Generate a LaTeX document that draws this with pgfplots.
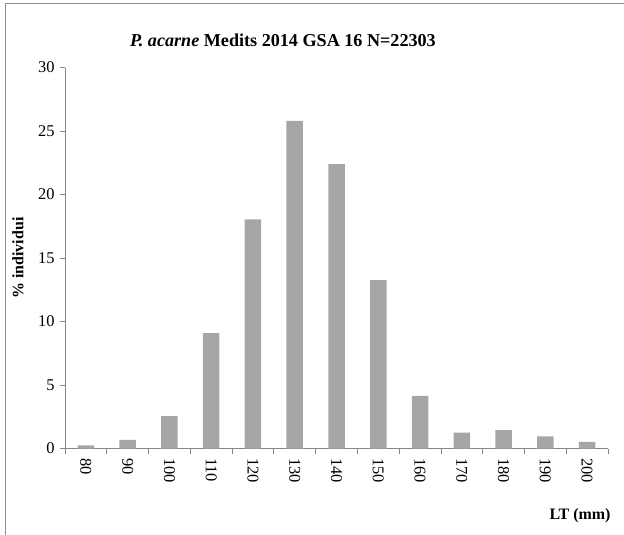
\documentclass[border=0pt]{standalone}
\usepackage{pgfplots}
\pgfplotsset{compat=1.18}
\usepackage{fontspec}
\setmainfont{Liberation Serif}
\definecolor{barfill}{HTML}{A6A6A6}
\definecolor{axisgray}{HTML}{868686}
\definecolor{framegray}{HTML}{8C8C8C}

\begin{document}
\begin{tikzpicture}
  % page is the chart area: 624 x 535 bp, origin top left
  \path[use as bounding box] (0,0) rectangle (624bp,-535bp);
  \draw[framegray, line width=0.8bp] (5bp,-536bp) -- (5bp,-3bp) -- (625bp,-3bp);

  \node[font=\fontsize{18.2}{18}\selectfont\bfseries] at (283bp,-40bp)
    {\textit{P. acarne} Medits 2014 GSA 16 N=22303};

  \begin{axis}[
    at={(65bp,-448.5bp)}, anchor=south west,
    scale only axis,
    width=543bp, height=381bp,
    axis lines*=left,
    axis line style={axisgray, line width=0.8bp},
    xmin=-0.5, xmax=12.5,
    ymin=0, ymax=30,
    ytick={0,5,...,30},
    xtick={0,...,12},
    xticklabels={80,90,100,110,120,130,140,150,160,170,180,190,200},
    minor xtick={-0.5,0.5,...,12.5},
    major x tick style={draw=none},
    minor x tick style={axisgray, line width=0.8bp},
    y tick style={axisgray, line width=0.8bp},
    tick align=outside,
    major tick length=5bp, minor tick length=5bp,
    ticklabel style={font=\fontsize{16.5}{16}\selectfont},
    /pgf/number format/assume math mode=true,
    x tick label style={rotate=-90, anchor=west, xshift=1bp},
    y tick label style={xshift=-2bp},
    ylabel={\fontsize{16}{16}\selectfont\bfseries \% individui},
    ylabel style={at={(-47bp,190.5bp)}, anchor=center, rotate=0},
    clip=false,
  ]
    \addplot[ybar, bar width=16.5bp, fill=barfill, draw=none] coordinates {
      (0, 0.24)
      (1, 0.68)
      (2, 2.54)
      (3, 9.08)
      (4, 18.05)
      (5, 25.8)
      (6, 22.4)
      (7, 13.25)
      (8, 4.14)
      (9, 1.26)
      (10, 1.44)
      (11, 0.95)
      (12, 0.52)
    };
  \end{axis}

  \node[font=\fontsize{16}{16}\selectfont\bfseries] at (580bp,-516bp) {LT (mm)};
\end{tikzpicture}
\end{document}
